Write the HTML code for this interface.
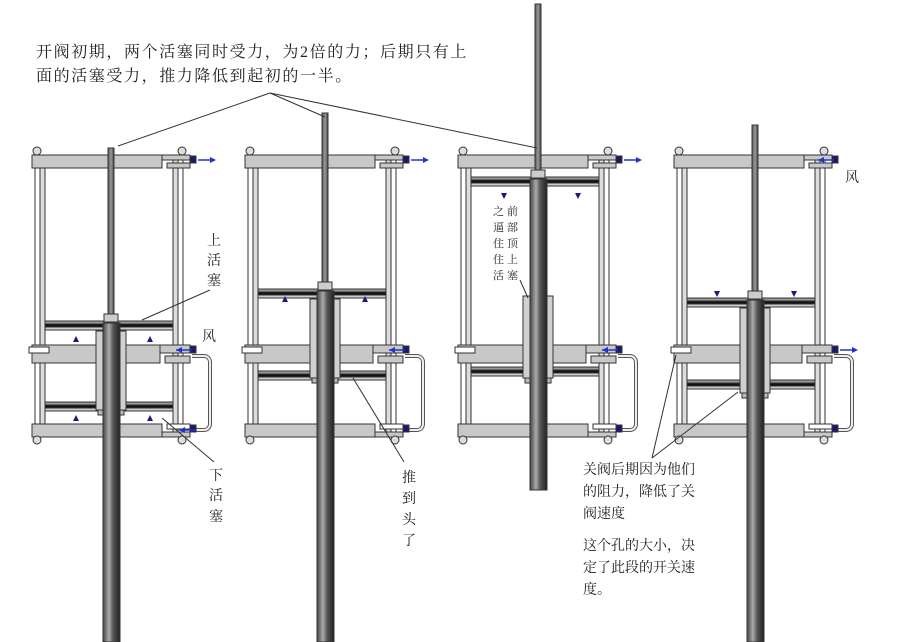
<!DOCTYPE html>
<html><head><meta charset="utf-8"><style>
html,body{margin:0;padding:0;background:#fff;width:898px;height:642px;overflow:hidden}
svg{display:block}
text{font-family:"Liberation Serif","Noto Serif CJK SC","Noto Sans CJK SC",serif;fill:#222}
</style></head><body>
<svg id="s" width="898" height="642" viewBox="0 0 898 642" xmlns="http://www.w3.org/2000/svg">
<defs>
<linearGradient id="rod" x1="0" x2="1"><stop offset="0" stop-color="#444"/><stop offset="0.35" stop-color="#aaa"/><stop offset="0.6" stop-color="#555"/><stop offset="1" stop-color="#222"/></linearGradient>
<linearGradient id="thin" x1="0" x2="1"><stop offset="0" stop-color="#555"/><stop offset="0.5" stop-color="#999"/><stop offset="1" stop-color="#444"/></linearGradient>
</defs>
<g id="g"></g>
<g stroke="#333" stroke-width="1" fill="none">
<line x1="270" y1="93" x2="118" y2="146"/>
<line x1="270" y1="93" x2="325" y2="117"/>
<line x1="270" y1="93" x2="537" y2="148"/>
<line x1="210" y1="290" x2="142" y2="320"/>
<line x1="162" y1="418" x2="214" y2="462"/>
<line x1="353" y1="378" x2="404" y2="462"/>
<line x1="520" y1="280" x2="528" y2="298"/>
<line x1="652" y1="458" x2="676" y2="355"/>
<line x1="652" y1="458" x2="738" y2="392"/>
</g>
<text x="36" y="57" font-size="16" letter-spacing="1.6">开阀初期，两个活塞同时受力，为2倍的力；后期只有上</text>
<text x="36" y="81" font-size="16" letter-spacing="1.6">面的活塞受力，推力降低到起初的一半。</text>
<text x="207" y="245" font-size="14">上</text><text x="207" y="265" font-size="14">活</text><text x="207" y="285" font-size="14">塞</text>
<text x="202" y="341" font-size="14">风</text>
<text x="209" y="480" font-size="14">下</text><text x="209" y="500" font-size="14">活</text><text x="209" y="521" font-size="14">塞</text>
<text x="402" y="482" font-size="14">推</text><text x="402" y="503" font-size="14">到</text><text x="402" y="524" font-size="14">头</text><text x="402" y="545" font-size="14">了</text>
<text x="845" y="182" font-size="14">风</text>
<g font-size="11"><text x="493" y="215">之</text><text x="493" y="231">逼</text><text x="493" y="247">住</text><text x="493" y="263">住</text><text x="493" y="279">活</text>
<text x="507" y="215">前</text><text x="507" y="231">部</text><text x="507" y="247">顶</text><text x="507" y="263">上</text><text x="507" y="279">塞</text></g>
<g font-size="14"><text x="583" y="474">关阀后期因为他们</text><text x="583" y="496">的阻力，降低了关</text><text x="583" y="518">阀速度</text>
<text x="583" y="550">这个孔的大小，决</text><text x="583" y="572">定了此段的开关速</text><text x="583" y="594">度。</text></g>
</svg>
<script>
var g=document.getElementById('g'),NS='http://www.w3.org/2000/svg';
function el(t,a){var e=document.createElementNS(NS,t);for(var k in a)e.setAttribute(k,a[k]);g.appendChild(e);return e;}
function R(x,y,w,h,f,s){return el('rect',{x:x,y:y,width:w,height:h,fill:f||'#c8c8c8',stroke:s||'#333','stroke-width':1});}
function arrow(x,y,dir){el('line',{x1:x-8,y1:y,x2:x+8,y2:y,stroke:'#2233cc','stroke-width':1.5});
 var p=dir>0?[x+10,y,x+4,y-3,x+4,y+3]:[x-8,y,x-2,y-3,x-2,y+3];el('polygon',{points:p.join(','),fill:'#2233cc'});}
function tri(x,y,up){el('polygon',{points:up?[x,y-6,x-3,y,x+3,y].join(','):[x,y+6,x-3,y,x+3,y].join(','),fill:'#1a1a7a'});}
function cyl(o,p){
 R(o+3,155,5,282,'#fff');R(o+8,160,5,272,'#ddd');
 R(o+146,155,5,282,'#fff');R(o+141,160,5,272,'#ddd');
 R(o,155,130,13);R(o+130,155,28,5);R(o+135,163,23,5);
 R(o,345,128,18);R(o-3,347,20,6,'#fff');R(o+128,345,30,8);R(o+133,356,25,7);
 R(o,424,130,13);R(o+130,432,28,5);R(o+135,424,23,5,'#fff');
 [[o+5,151],[o+150,151],[o+5,440],[o+150,440]].forEach(function(b){el('circle',{cx:b[0],cy:b[1],r:4,fill:'#ddd',stroke:'#333'});});
 el('path',{d:'M'+(o+160)+' 356 h12 a6 6 0 0 1 6 6 v62 a6 6 0 0 1 -6 6 h-12',fill:'none',stroke:'#555','stroke-width':4});
 el('path',{d:'M'+(o+160)+' 356 h12 a6 6 0 0 1 6 6 v62 a6 6 0 0 1 -6 6 h-12',fill:'none',stroke:'#eee','stroke-width':2});
 [[158,155],[158,345],[158,424]].forEach(function(f){R(o+f[0],f[1]+1,6,7,'#1a1a6a');});
 arrow(o+p.a1x,160,p.a1d);arrow(o+p.a2x,350,p.a2d);if(p.a3)arrow(o+155,430,-1);
 var w=o+13,ww=128;
 R(w,p.up,ww,3,'#999');R(w,p.up+3,ww,3,'#111');R(w,p.up+6,ww,3,'#ccc');
 R(w,p.lp,ww,3,'#999');R(w,p.lp+3,ww,3,'#111');R(w,p.lp+6,ww,3,'#ccc');
 var c=o+p.cx;
 R(c-15,p.sl[0],30,p.sl[1]-p.sl[0],'#d0d0d0');
 R(c-13,p.sl[1],26,5,'#bbb');
 R(c-8,p.up+2,17,p.re-p.up-2,'url(#rod)');
 R(c-3,p.tt,6,p.up-p.tt,'url(#thin)');
 R(c-7,p.up-7,14,8,'#ccc');
 p.tr.forEach(function(t){tri(o+t[0],t[1],t[2]);});
}
cyl(32,{cx:79,up:321,lp:402,sl:[331,410],re:642,tt:148,a1x:174,a1d:1,a2x:152,a2d:-1,a3:1,tr:[[44,342,1],[118,342,1],[44,421,1],[118,421,1]]});
cyl(245,{cx:80,up:289,lp:371,sl:[299,378],re:642,tt:113,a1x:174,a1d:1,a2x:152,a2d:-1,tr:[[40,302,1],[120,302,1]]});
cyl(458,{cx:80,up:177,lp:367,sl:[296,378],re:490,tt:4,a1x:174,a1d:1,a2x:152,a2d:-1,tr:[[46,193,0],[120,193,0]]});
cyl(674,{cx:81,up:298,lp:380,sl:[308,393],re:642,tt:125,a1x:152,a1d:-1,a2x:174,a2d:1,tr:[[43,291,0],[120,291,0]]});
</script>
</body></html>
